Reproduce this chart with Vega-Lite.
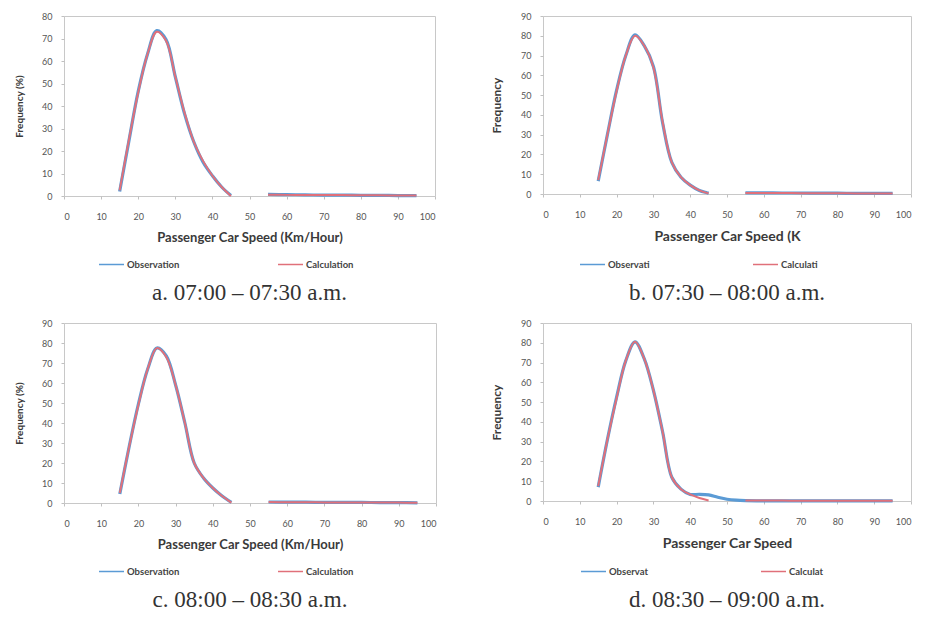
{
  "$schema": "https://vega.github.io/schema/vega-lite/v6.json",
  "padding": {"top": 11, "left": 14, "right": 5, "bottom": 5},
  "background": "white",
  "columns": 2,
  "spacing": {"column": 53, "row": 12},
  "resolve": {"scale": {"color": "independent", "y": "independent"}, "legend": {"color": "independent"}},
  "concat": [
    {
      "width": 371, "height": 180,
      "title": "a. 07:00 – 07:30 a.m.",
      "data": {"values": [
        {"speed": 15, "freq": 2, "kind": "obs", "series": "Observation", "seg": 1},
        {"speed": 17.5, "freq": 24.5, "kind": "obs", "series": "Observation", "seg": 1},
        {"speed": 20, "freq": 46.5, "kind": "obs", "series": "Observation", "seg": 1},
        {"speed": 22.5, "freq": 63, "kind": "obs", "series": "Observation", "seg": 1},
        {"speed": 25, "freq": 73.5, "kind": "obs", "series": "Observation", "seg": 1},
        {"speed": 27.5, "freq": 69.5, "kind": "obs", "series": "Observation", "seg": 1},
        {"speed": 30, "freq": 53, "kind": "obs", "series": "Observation", "seg": 1},
        {"speed": 32.5, "freq": 36.5, "kind": "obs", "series": "Observation", "seg": 1},
        {"speed": 35, "freq": 24, "kind": "obs", "series": "Observation", "seg": 1},
        {"speed": 37.5, "freq": 15, "kind": "obs", "series": "Observation", "seg": 1},
        {"speed": 40, "freq": 9, "kind": "obs", "series": "Observation", "seg": 1},
        {"speed": 42.5, "freq": 4, "kind": "obs", "series": "Observation", "seg": 1},
        {"speed": 45, "freq": 0.2, "kind": "obs", "series": "Observation", "seg": 1},
        {"speed": 55, "freq": 0.7, "kind": "obs", "series": "Observation", "seg": 2},
        {"speed": 60, "freq": 0.6, "kind": "obs", "series": "Observation", "seg": 2},
        {"speed": 65, "freq": 0.5, "kind": "obs", "series": "Observation", "seg": 2},
        {"speed": 70, "freq": 0.4, "kind": "obs", "series": "Observation", "seg": 2},
        {"speed": 75, "freq": 0.4, "kind": "obs", "series": "Observation", "seg": 2},
        {"speed": 80, "freq": 0.3, "kind": "obs", "series": "Observation", "seg": 2},
        {"speed": 85, "freq": 0.3, "kind": "obs", "series": "Observation", "seg": 2},
        {"speed": 90, "freq": 0.2, "kind": "obs", "series": "Observation", "seg": 2},
        {"speed": 95, "freq": 0.2, "kind": "obs", "series": "Observation", "seg": 2},
        {"speed": 15, "freq": 2.5, "kind": "calc", "series": "Calculation", "seg": 1},
        {"speed": 17.5, "freq": 25, "kind": "calc", "series": "Calculation", "seg": 1},
        {"speed": 20, "freq": 46, "kind": "calc", "series": "Calculation", "seg": 1},
        {"speed": 22.5, "freq": 63, "kind": "calc", "series": "Calculation", "seg": 1},
        {"speed": 25, "freq": 73, "kind": "calc", "series": "Calculation", "seg": 1},
        {"speed": 27.5, "freq": 69, "kind": "calc", "series": "Calculation", "seg": 1},
        {"speed": 30, "freq": 53, "kind": "calc", "series": "Calculation", "seg": 1},
        {"speed": 32.5, "freq": 37, "kind": "calc", "series": "Calculation", "seg": 1},
        {"speed": 35, "freq": 24, "kind": "calc", "series": "Calculation", "seg": 1},
        {"speed": 37.5, "freq": 15.5, "kind": "calc", "series": "Calculation", "seg": 1},
        {"speed": 40, "freq": 9, "kind": "calc", "series": "Calculation", "seg": 1},
        {"speed": 42.5, "freq": 4, "kind": "calc", "series": "Calculation", "seg": 1},
        {"speed": 45, "freq": 0, "kind": "calc", "series": "Calculation", "seg": 1},
        {"speed": 55, "freq": 0.6, "kind": "calc", "series": "Calculation", "seg": 2},
        {"speed": 60, "freq": 0.5, "kind": "calc", "series": "Calculation", "seg": 2},
        {"speed": 65, "freq": 0.5, "kind": "calc", "series": "Calculation", "seg": 2},
        {"speed": 70, "freq": 0.4, "kind": "calc", "series": "Calculation", "seg": 2},
        {"speed": 75, "freq": 0.4, "kind": "calc", "series": "Calculation", "seg": 2},
        {"speed": 80, "freq": 0.3, "kind": "calc", "series": "Calculation", "seg": 2},
        {"speed": 85, "freq": 0.3, "kind": "calc", "series": "Calculation", "seg": 2},
        {"speed": 90, "freq": 0.2, "kind": "calc", "series": "Calculation", "seg": 2},
        {"speed": 95, "freq": 0.2, "kind": "calc", "series": "Calculation", "seg": 2}
      ]},
      "encoding": {
        "x": {"field": "speed", "type": "quantitative", "scale": {"domain": [0, 100], "nice": false},
              "axis": {"values": [0, 10, 20, 30, 40, 50, 60, 70, 80, 90, 100], "title": "Passenger Car Speed (Km/Hour)"}},
        "y": {"field": "freq", "type": "quantitative", "scale": {"domain": [0, 80], "nice": false},
              "axis": {"values": [0, 10, 20, 30, 40, 50, 60, 70, 80], "title": "Frequency (%)"}},
        "color": {"field": "series", "type": "nominal",
                  "scale": {"domain": ["Observation", "Calculation"], "range": ["#5b9bd5", "#e0707a"]},
                  "legend": {"orient": "none", "legendX": 34, "legendY": 235, "columnPadding": 95}},
        "detail": {"field": "seg"}
      },
      "layer": [
        {"transform": [{"filter": "datum.kind === 'obs'"}], "mark": {"type": "line", "interpolate": "catmull-rom", "strokeWidth": 3.2}},
        {"transform": [{"filter": "datum.kind === 'calc'"}], "mark": {"type": "line", "interpolate": "catmull-rom", "strokeWidth": 2}}
      ]
    },
    {
      "width": 368, "height": 178,
      "title": "b. 07:30 – 08:00 a.m.",
      "data": {"values": [
        {"speed": 15, "freq": 6.5, "kind": "obs", "series": "Observati", "seg": 1},
        {"speed": 17.5, "freq": 30, "kind": "obs", "series": "Observati", "seg": 1},
        {"speed": 20, "freq": 52.5, "kind": "obs", "series": "Observati", "seg": 1},
        {"speed": 22.5, "freq": 70, "kind": "obs", "series": "Observati", "seg": 1},
        {"speed": 25, "freq": 80.5, "kind": "obs", "series": "Observati", "seg": 1},
        {"speed": 27.5, "freq": 75, "kind": "obs", "series": "Observati", "seg": 1},
        {"speed": 30, "freq": 64.5, "kind": "obs", "series": "Observati", "seg": 1},
        {"speed": 32.5, "freq": 36, "kind": "obs", "series": "Observati", "seg": 1},
        {"speed": 35, "freq": 16, "kind": "obs", "series": "Observati", "seg": 1},
        {"speed": 37.5, "freq": 8.5, "kind": "obs", "series": "Observati", "seg": 1},
        {"speed": 40, "freq": 4.5, "kind": "obs", "series": "Observati", "seg": 1},
        {"speed": 42.5, "freq": 1.8, "kind": "obs", "series": "Observati", "seg": 1},
        {"speed": 45, "freq": 0.4, "kind": "obs", "series": "Observati", "seg": 1},
        {"speed": 55, "freq": 0.6, "kind": "obs", "series": "Observati", "seg": 2},
        {"speed": 60, "freq": 0.6, "kind": "obs", "series": "Observati", "seg": 2},
        {"speed": 65, "freq": 0.5, "kind": "obs", "series": "Observati", "seg": 2},
        {"speed": 70, "freq": 0.5, "kind": "obs", "series": "Observati", "seg": 2},
        {"speed": 75, "freq": 0.4, "kind": "obs", "series": "Observati", "seg": 2},
        {"speed": 80, "freq": 0.4, "kind": "obs", "series": "Observati", "seg": 2},
        {"speed": 85, "freq": 0.3, "kind": "obs", "series": "Observati", "seg": 2},
        {"speed": 90, "freq": 0.3, "kind": "obs", "series": "Observati", "seg": 2},
        {"speed": 95, "freq": 0.3, "kind": "obs", "series": "Observati", "seg": 2},
        {"speed": 15, "freq": 7, "kind": "calc", "series": "Calculati", "seg": 1},
        {"speed": 17.5, "freq": 30, "kind": "calc", "series": "Calculati", "seg": 1},
        {"speed": 20, "freq": 52, "kind": "calc", "series": "Calculati", "seg": 1},
        {"speed": 22.5, "freq": 70, "kind": "calc", "series": "Calculati", "seg": 1},
        {"speed": 25, "freq": 80, "kind": "calc", "series": "Calculati", "seg": 1},
        {"speed": 27.5, "freq": 75, "kind": "calc", "series": "Calculati", "seg": 1},
        {"speed": 30, "freq": 64, "kind": "calc", "series": "Calculati", "seg": 1},
        {"speed": 32.5, "freq": 36.5, "kind": "calc", "series": "Calculati", "seg": 1},
        {"speed": 35, "freq": 16, "kind": "calc", "series": "Calculati", "seg": 1},
        {"speed": 37.5, "freq": 8.5, "kind": "calc", "series": "Calculati", "seg": 1},
        {"speed": 40, "freq": 4.5, "kind": "calc", "series": "Calculati", "seg": 1},
        {"speed": 42.5, "freq": 1.8, "kind": "calc", "series": "Calculati", "seg": 1},
        {"speed": 45, "freq": 0.3, "kind": "calc", "series": "Calculati", "seg": 1},
        {"speed": 55, "freq": 0.5, "kind": "calc", "series": "Calculati", "seg": 2},
        {"speed": 60, "freq": 0.5, "kind": "calc", "series": "Calculati", "seg": 2},
        {"speed": 65, "freq": 0.5, "kind": "calc", "series": "Calculati", "seg": 2},
        {"speed": 70, "freq": 0.4, "kind": "calc", "series": "Calculati", "seg": 2},
        {"speed": 75, "freq": 0.4, "kind": "calc", "series": "Calculati", "seg": 2},
        {"speed": 80, "freq": 0.4, "kind": "calc", "series": "Calculati", "seg": 2},
        {"speed": 85, "freq": 0.3, "kind": "calc", "series": "Calculati", "seg": 2},
        {"speed": 90, "freq": 0.3, "kind": "calc", "series": "Calculati", "seg": 2},
        {"speed": 95, "freq": 0.3, "kind": "calc", "series": "Calculati", "seg": 2}
      ]},
      "encoding": {
        "x": {"field": "speed", "type": "quantitative", "scale": {"domain": [0, 100], "nice": false},
              "axis": {"values": [0, 10, 20, 30, 40, 50, 60, 70, 80, 90, 100], "title": "Passenger Car Speed (K", "titleFontSize": 14}},
        "y": {"field": "freq", "type": "quantitative", "scale": {"domain": [0, 90], "nice": false},
              "axis": {"values": [0, 10, 20, 30, 40, 50, 60, 70, 80, 90], "title": "Frequency", "titleFontSize": 12}},
        "color": {"field": "series", "type": "nominal",
                  "scale": {"domain": ["Observati", "Calculati"], "range": ["#5b9bd5", "#e0707a"]},
                  "legend": {"orient": "none", "legendX": 36, "legendY": 235, "columnPadding": 100}},
        "detail": {"field": "seg"}
      },
      "layer": [
        {"transform": [{"filter": "datum.kind === 'obs'"}], "mark": {"type": "line", "interpolate": "catmull-rom", "strokeWidth": 3.2}},
        {"transform": [{"filter": "datum.kind === 'calc'"}], "mark": {"type": "line", "interpolate": "catmull-rom", "strokeWidth": 2}}
      ]
    },
    {
      "width": 372, "height": 180,
      "title": "c. 08:00 – 08:30 a.m.",
      "data": {"values": [
        {"speed": 15, "freq": 4.5, "kind": "obs", "series": "Observation", "seg": 1},
        {"speed": 17.5, "freq": 28, "kind": "obs", "series": "Observation", "seg": 1},
        {"speed": 20, "freq": 49.5, "kind": "obs", "series": "Observation", "seg": 1},
        {"speed": 22.5, "freq": 67, "kind": "obs", "series": "Observation", "seg": 1},
        {"speed": 25, "freq": 77.5, "kind": "obs", "series": "Observation", "seg": 1},
        {"speed": 27.5, "freq": 73.5, "kind": "obs", "series": "Observation", "seg": 1},
        {"speed": 30, "freq": 59, "kind": "obs", "series": "Observation", "seg": 1},
        {"speed": 32.5, "freq": 40, "kind": "obs", "series": "Observation", "seg": 1},
        {"speed": 35, "freq": 20, "kind": "obs", "series": "Observation", "seg": 1},
        {"speed": 37.5, "freq": 12.5, "kind": "obs", "series": "Observation", "seg": 1},
        {"speed": 40, "freq": 7.5, "kind": "obs", "series": "Observation", "seg": 1},
        {"speed": 42.5, "freq": 3.5, "kind": "obs", "series": "Observation", "seg": 1},
        {"speed": 45, "freq": 0.3, "kind": "obs", "series": "Observation", "seg": 1},
        {"speed": 55, "freq": 0.5, "kind": "obs", "series": "Observation", "seg": 2},
        {"speed": 60, "freq": 0.4, "kind": "obs", "series": "Observation", "seg": 2},
        {"speed": 65, "freq": 0.4, "kind": "obs", "series": "Observation", "seg": 2},
        {"speed": 70, "freq": 0.3, "kind": "obs", "series": "Observation", "seg": 2},
        {"speed": 75, "freq": 0.3, "kind": "obs", "series": "Observation", "seg": 2},
        {"speed": 80, "freq": 0.3, "kind": "obs", "series": "Observation", "seg": 2},
        {"speed": 85, "freq": 0.2, "kind": "obs", "series": "Observation", "seg": 2},
        {"speed": 90, "freq": 0.2, "kind": "obs", "series": "Observation", "seg": 2},
        {"speed": 95, "freq": 0.1, "kind": "obs", "series": "Observation", "seg": 2},
        {"speed": 15, "freq": 5, "kind": "calc", "series": "Calculation", "seg": 1},
        {"speed": 17.5, "freq": 28, "kind": "calc", "series": "Calculation", "seg": 1},
        {"speed": 20, "freq": 49, "kind": "calc", "series": "Calculation", "seg": 1},
        {"speed": 22.5, "freq": 67, "kind": "calc", "series": "Calculation", "seg": 1},
        {"speed": 25, "freq": 77.5, "kind": "calc", "series": "Calculation", "seg": 1},
        {"speed": 27.5, "freq": 73, "kind": "calc", "series": "Calculation", "seg": 1},
        {"speed": 30, "freq": 59, "kind": "calc", "series": "Calculation", "seg": 1},
        {"speed": 32.5, "freq": 40, "kind": "calc", "series": "Calculation", "seg": 1},
        {"speed": 35, "freq": 20, "kind": "calc", "series": "Calculation", "seg": 1},
        {"speed": 37.5, "freq": 12.5, "kind": "calc", "series": "Calculation", "seg": 1},
        {"speed": 40, "freq": 7.5, "kind": "calc", "series": "Calculation", "seg": 1},
        {"speed": 42.5, "freq": 3.5, "kind": "calc", "series": "Calculation", "seg": 1},
        {"speed": 45, "freq": 0.2, "kind": "calc", "series": "Calculation", "seg": 1},
        {"speed": 55, "freq": 0.5, "kind": "calc", "series": "Calculation", "seg": 2},
        {"speed": 60, "freq": 0.4, "kind": "calc", "series": "Calculation", "seg": 2},
        {"speed": 65, "freq": 0.4, "kind": "calc", "series": "Calculation", "seg": 2},
        {"speed": 70, "freq": 0.3, "kind": "calc", "series": "Calculation", "seg": 2},
        {"speed": 75, "freq": 0.3, "kind": "calc", "series": "Calculation", "seg": 2},
        {"speed": 80, "freq": 0.3, "kind": "calc", "series": "Calculation", "seg": 2},
        {"speed": 85, "freq": 0.2, "kind": "calc", "series": "Calculation", "seg": 2},
        {"speed": 90, "freq": 0.2, "kind": "calc", "series": "Calculation", "seg": 2},
        {"speed": 95, "freq": 0.1, "kind": "calc", "series": "Calculation", "seg": 2}
      ]},
      "encoding": {
        "x": {"field": "speed", "type": "quantitative", "scale": {"domain": [0, 100], "nice": false},
              "axis": {"values": [0, 10, 20, 30, 40, 50, 60, 70, 80, 90, 100], "title": "Passenger Car Speed (Km/Hour)"}},
        "y": {"field": "freq", "type": "quantitative", "scale": {"domain": [0, 90], "nice": false},
              "axis": {"values": [0, 10, 20, 30, 40, 50, 60, 70, 80, 90], "title": "Frequency (%)"}},
        "color": {"field": "series", "type": "nominal",
                  "scale": {"domain": ["Observation", "Calculation"], "range": ["#5b9bd5", "#e0707a"]},
                  "legend": {"orient": "none", "legendX": 34, "legendY": 235, "columnPadding": 95}},
        "detail": {"field": "seg"}
      },
      "layer": [
        {"transform": [{"filter": "datum.kind === 'obs'"}], "mark": {"type": "line", "interpolate": "catmull-rom", "strokeWidth": 3.2}},
        {"transform": [{"filter": "datum.kind === 'calc'"}], "mark": {"type": "line", "interpolate": "catmull-rom", "strokeWidth": 2}}
      ]
    },
    {
      "width": 368, "height": 178,
      "title": "d. 08:30 – 09:00 a.m.",
      "data": {"values": [
        {"speed": 15, "freq": 7, "kind": "obs", "series": "Observat", "seg": 1},
        {"speed": 17.5, "freq": 31, "kind": "obs", "series": "Observat", "seg": 1},
        {"speed": 20, "freq": 52.5, "kind": "obs", "series": "Observat", "seg": 1},
        {"speed": 22.5, "freq": 71, "kind": "obs", "series": "Observat", "seg": 1},
        {"speed": 25, "freq": 80.5, "kind": "obs", "series": "Observat", "seg": 1},
        {"speed": 27.5, "freq": 72, "kind": "obs", "series": "Observat", "seg": 1},
        {"speed": 30, "freq": 56, "kind": "obs", "series": "Observat", "seg": 1},
        {"speed": 32.5, "freq": 35, "kind": "obs", "series": "Observat", "seg": 1},
        {"speed": 35, "freq": 12, "kind": "obs", "series": "Observat", "seg": 1},
        {"speed": 37.5, "freq": 6, "kind": "obs", "series": "Observat", "seg": 1},
        {"speed": 40, "freq": 3.3, "kind": "obs", "series": "Observat", "seg": 1},
        {"speed": 42.5, "freq": 3.4, "kind": "obs", "series": "Observat", "seg": 1},
        {"speed": 45, "freq": 3.1, "kind": "obs", "series": "Observat", "seg": 1},
        {"speed": 47.5, "freq": 1.9, "kind": "obs", "series": "Observat", "seg": 1},
        {"speed": 50, "freq": 0.9, "kind": "obs", "series": "Observat", "seg": 1},
        {"speed": 52.5, "freq": 0.4, "kind": "obs", "series": "Observat", "seg": 1},
        {"speed": 55, "freq": 0.2, "kind": "obs", "series": "Observat", "seg": 1},
        {"speed": 60, "freq": 0.1, "kind": "obs", "series": "Observat", "seg": 1},
        {"speed": 65, "freq": 0.1, "kind": "obs", "series": "Observat", "seg": 1},
        {"speed": 70, "freq": 0.1, "kind": "obs", "series": "Observat", "seg": 1},
        {"speed": 75, "freq": 0.1, "kind": "obs", "series": "Observat", "seg": 1},
        {"speed": 80, "freq": 0.1, "kind": "obs", "series": "Observat", "seg": 1},
        {"speed": 85, "freq": 0.1, "kind": "obs", "series": "Observat", "seg": 1},
        {"speed": 90, "freq": 0.1, "kind": "obs", "series": "Observat", "seg": 1},
        {"speed": 95, "freq": 0.1, "kind": "obs", "series": "Observat", "seg": 1},
        {"speed": 15, "freq": 7.5, "kind": "calc", "series": "Calculat", "seg": 1},
        {"speed": 17.5, "freq": 31, "kind": "calc", "series": "Calculat", "seg": 1},
        {"speed": 20, "freq": 52, "kind": "calc", "series": "Calculat", "seg": 1},
        {"speed": 22.5, "freq": 71, "kind": "calc", "series": "Calculat", "seg": 1},
        {"speed": 25, "freq": 80.5, "kind": "calc", "series": "Calculat", "seg": 1},
        {"speed": 27.5, "freq": 72, "kind": "calc", "series": "Calculat", "seg": 1},
        {"speed": 30, "freq": 56, "kind": "calc", "series": "Calculat", "seg": 1},
        {"speed": 32.5, "freq": 35, "kind": "calc", "series": "Calculat", "seg": 1},
        {"speed": 35, "freq": 12, "kind": "calc", "series": "Calculat", "seg": 1},
        {"speed": 37.5, "freq": 6, "kind": "calc", "series": "Calculat", "seg": 1},
        {"speed": 40, "freq": 3.3, "kind": "calc", "series": "Calculat", "seg": 1},
        {"speed": 42.5, "freq": 1.5, "kind": "calc", "series": "Calculat", "seg": 1},
        {"speed": 45, "freq": 0.3, "kind": "calc", "series": "Calculat", "seg": 1},
        {"speed": 55, "freq": 0.2, "kind": "calc", "series": "Calculat", "seg": 2},
        {"speed": 60, "freq": 0.2, "kind": "calc", "series": "Calculat", "seg": 2},
        {"speed": 65, "freq": 0.2, "kind": "calc", "series": "Calculat", "seg": 2},
        {"speed": 70, "freq": 0.1, "kind": "calc", "series": "Calculat", "seg": 2},
        {"speed": 75, "freq": 0.1, "kind": "calc", "series": "Calculat", "seg": 2},
        {"speed": 80, "freq": 0.1, "kind": "calc", "series": "Calculat", "seg": 2},
        {"speed": 85, "freq": 0.1, "kind": "calc", "series": "Calculat", "seg": 2},
        {"speed": 90, "freq": 0.1, "kind": "calc", "series": "Calculat", "seg": 2},
        {"speed": 95, "freq": 0.1, "kind": "calc", "series": "Calculat", "seg": 2}
      ]},
      "encoding": {
        "x": {"field": "speed", "type": "quantitative", "scale": {"domain": [0, 100], "nice": false},
              "axis": {"values": [0, 10, 20, 30, 40, 50, 60, 70, 80, 90, 100], "title": "Passenger Car Speed", "titleFontSize": 14}},
        "y": {"field": "freq", "type": "quantitative", "scale": {"domain": [0, 90], "nice": false},
              "axis": {"values": [0, 10, 20, 30, 40, 50, 60, 70, 80, 90], "title": "Frequency", "titleFontSize": 12}},
        "color": {"field": "series", "type": "nominal",
                  "scale": {"domain": ["Observat", "Calculat"], "range": ["#5b9bd5", "#e0707a"]},
                  "legend": {"orient": "none", "legendX": 37, "legendY": 235, "columnPadding": 110}},
        "detail": {"field": "seg"}
      },
      "layer": [
        {"transform": [{"filter": "datum.kind === 'obs'"}], "mark": {"type": "line", "interpolate": "catmull-rom", "strokeWidth": 3.2}},
        {"transform": [{"filter": "datum.kind === 'calc'"}], "mark": {"type": "line", "interpolate": "catmull-rom", "strokeWidth": 2}}
      ]
    }
  ],
  "config": {
    "view": {"stroke": "#c8c8c8", "strokeWidth": 1},
    "axis": {"grid": false, "domain": false, "ticks": true, "tickColor": "#c0c0c0", "tickSize": 3,
             "labelFont": "Lato", "labelFontSize": 9, "labelColor": "#555555",
             "titleFont": "Lato", "titleFontWeight": "bold", "titleColor": "#3a3a3a"},
    "axisX": {"labelPadding": 13, "titleFontSize": 13, "titlePadding": 10},
    "axisY": {"labelPadding": 9, "titleFontSize": 10, "titlePadding": 17},
    "legend": {"title": null, "direction": "horizontal", "symbolType": "stroke", "symbolSize": 625,
               "symbolStrokeWidth": 1.5, "labelFont": "Lato", "labelFontSize": 9.5, "labelFontWeight": "bold",
               "labelColor": "#444444", "labelOffset": 2},
    "title": {"orient": "bottom", "anchor": "middle", "font": "Liberation Serif", "fontSize": 23,
              "fontWeight": "normal", "color": "#333333", "offset": 13}
  }
}
